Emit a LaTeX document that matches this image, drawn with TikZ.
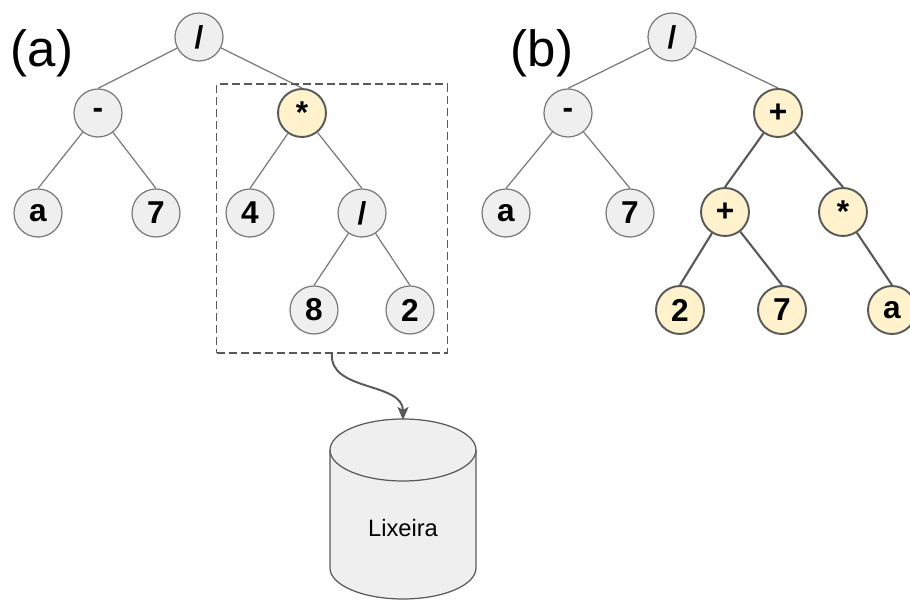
\documentclass[tikz,border=0pt]{standalone}
\usepackage{fontspec}
\setmainfont{Liberation Sans}
\usetikzlibrary{arrows.meta}

\definecolor{nodegray}{HTML}{EFEFEF}
\definecolor{linegray}{HTML}{7A7A7A}
\definecolor{newfill}{HTML}{FFF2CC}
\definecolor{darkline}{HTML}{595959}

\begin{document}
\begin{tikzpicture}[
    x=0.02cm, y=-0.02cm,
    opnode/.style={circle, draw=linegray, fill=nodegray, line width=0.7pt, minimum size=0.96cm, inner sep=0pt, font=\fontsize{18}{20}\selectfont\bfseries},
    newnode/.style={opnode, draw=darkline, fill=newfill, line width=1.1pt},
    edge/.style={draw=linegray, line width=0.7pt},
    newedge/.style={draw=darkline, line width=1.2pt},
    trashbox/.style={rectangle, draw=darkline, dash pattern=on 0.16cm off 0.08cm, line width=0.7pt, minimum width=4.62cm, minimum height=5.38cm},
    arrow/.style={-{Stealth[length=0.26cm, width=0.22cm, inset=0.06cm]}, draw=darkline, line width=1.1pt},
    tag/.style={font=\fontsize{29}{32}\selectfont}
]
\useasboundingbox (0,0) rectangle (910,601);

% Left side: original tree
\node[opnode] (ra) at (199,37) {/};
\node[opnode] (ma) at (98,113) {-};
\node[newnode] (ta) at (302,113) {*};
\node[opnode] (aa) at (38,213) {a};
\node[opnode] (sa) at (156,213) {7};
\node[opnode] (fa) at (250,213) {4};
\node[opnode] (da) at (362,213) {/};
\node[opnode] (ea) at (314,310) {8};
\node[opnode] (wa) at (410,310) {2};

\draw[edge] (ra) -- (ma.north);
\draw[edge] (ra) -- (ta.north);
\draw[edge] (ma) -- (aa.north);
\draw[edge] (ma) -- (sa.north);
\draw[edge] (ta) -- (fa.north);
\draw[edge] (ta) -- (da.north);
\draw[edge] (da) -- (ea.north);
\draw[edge] (da) -- (wa.north);

% Removed subtree and trash
\node[trashbox] (sub) at (332,218.5) {};
\draw[darkline, fill=nodegray, line width=0.7pt] (330,450) -- (330,568)
    arc[start angle=180, end angle=360, x radius=1.46cm, y radius=0.62cm] -- (476,450)
    arc[start angle=0, end angle=180, x radius=1.46cm, y radius=0.62cm] -- cycle;
\draw[darkline, line width=0.7pt] (330,450)
    arc[start angle=180, end angle=360, x radius=1.46cm, y radius=0.62cm];
\coordinate (bintop) at (403,420);
\node[font=\fontsize{13.5}{16}\selectfont] (bin) at (403,528) {Lixeira};

\draw[arrow] (sub.south) to[out=-95, in=90] (bintop);

% Right side: new tree
\node[opnode] (rb) at (672,37) {/};
\node[opnode] (mb) at (568,113) {-};
\node[newnode] (pb) at (778,113) {+};
\node[opnode] (ab) at (506,213) {a};
\node[opnode] (sb) at (630,213) {7};
\node[newnode] (qb) at (725,212) {+};
\node[newnode] (tb) at (843,212) {*};
\node[newnode] (wb) at (680,310) {2};
\node[newnode] (vb) at (782,310) {7};
\node[newnode] (xb) at (892,310) {a};

\draw[edge] (rb) -- (mb.north);
\draw[edge] (rb) -- (pb.north);
\draw[edge] (mb) -- (ab.north);
\draw[edge] (mb) -- (sb.north);
\draw[newedge] (pb) -- (qb.north);
\draw[newedge] (pb) -- (tb.north);
\draw[newedge] (qb) -- (wb.north);
\draw[newedge] (qb) -- (vb.north);
\draw[newedge] (tb) -- (xb.north);

% Labels
\node[tag] (la) at (42,53) {(a)};
\node[tag] (lb) at (542,53) {(b)};

\end{tikzpicture}
\end{document}
